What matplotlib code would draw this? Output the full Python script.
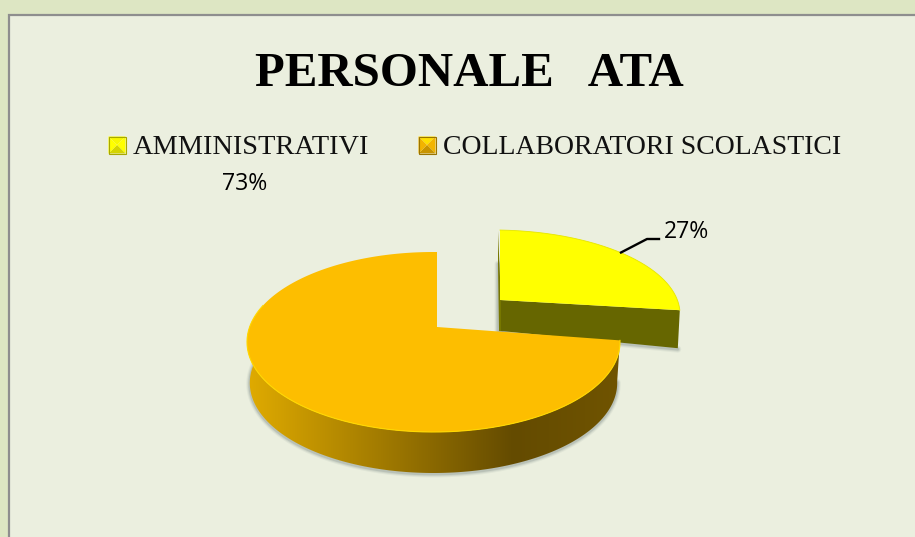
import numpy as np
import matplotlib
matplotlib.use("Agg")
import matplotlib.pyplot as plt
from matplotlib.patches import Polygon, Rectangle

# Chart data
title = "PERSONALE   ATA"
categories = ["AMMINISTRATIVI", "COLLABORATORI SCOLASTICI"]
percent = [27, 73]

# Work in image pixels, y pointing down
fig = plt.figure(figsize=(9.15, 5.37), dpi=100, facecolor="#dde6c3")
ax = fig.add_axes([0, 0, 1, 1])
ax.set_xlim(0, 915)
ax.set_ylim(537, 0)
ax.axis("off")

# Panel
ax.add_patch(Rectangle((9, 15), 920, 540, fc="#ebefdf", ec="#8e8e8e", lw=1.6, zorder=1))


def rim(center, radii, apex, start, end, tilt=1.0, n=200):
    # cast rays from the apex to the ellipse, angles clockwise from the top
    # the apex is not the ellipse centre because of the perspective
    theta = np.radians(np.linspace(start, end, n))
    dx = np.sin(theta) * radii[0]
    dy = -np.cos(theta) * radii[1] * tilt
    ox = (apex[0] - center[0]) / radii[0]
    oy = (apex[1] - center[1]) / radii[1]
    ux = dx / radii[0]
    uy = dy / radii[1]
    a = ux**2 + uy**2
    b = 2 * (ox * ux + oy * uy)
    c = ox**2 + oy**2 - 1
    t = (-b + np.sqrt(b**2 - 4 * a * c)) / (2 * a)
    return np.column_stack((apex[0] + t * dx, apex[1] + t * dy))


def shadow(points, z):
    # soft grey edge under a wall
    for w, al in [(5, 0.08), (3.5, 0.12), (2, 0.2)]:
        ax.plot(points[:, 0], points[:, 1], color="#607070", lw=w, alpha=al,
                solid_capstyle="round", zorder=z)


angle_yellow = 360 * percent[0] / sum(percent)

# Yellow slice, pulled out of the pie
y_center, y_radii, y_apex = (493, 314), (187, 84), (500, 300)
y_arc = rim(y_center, y_radii, y_apex, 0, angle_yellow)
y_corner = y_arc[-1]
y_wall = np.array([y_apex, y_corner, y_corner + (-2, 38), (y_apex[0] + 1, y_apex[1] + 31)])
shadow(np.array([(498, 264), (498, 331), (y_apex[0] + 2, 332)]), 2)
shadow(np.array([y_wall[3], y_wall[2]]) + (0, 1), 2)
ax.add_patch(Polygon(y_wall, fc="#666600", ec="none", zorder=3))
ax.add_patch(Polygon(np.vstack((y_apex, y_arc)), fc="#ffff00", ec="none", zorder=4))
# thin dark sliver on the cut side
ax.add_patch(Polygon([(498, 231), (501, 300), (501, 331), (499, 331), (498, 264)],
                     fc="#777700", ec="none", zorder=3.5))
ax.plot(y_arc[:, 0], y_arc[:, 1], color="#e6e600", lw=0.6, zorder=4.5)

# Orange slice
o_center, o_radii, o_apex = (433.5, 342), (186.5, 90), (437, 327)
o_arc = rim(o_center, o_radii, o_apex, angle_yellow, 360, tilt=1.2)
front = rim(o_center, o_radii, o_apex, angle_yellow, 282, tilt=1.2)
wall_bottom = np.column_stack((o_center[0] + (front[:, 0] - o_center[0]) * 0.985, front[:, 1] + 41))
shadow(wall_bottom + (0, 1), 4.6)
wall = Polygon(np.vstack((front, wall_bottom[::-1])), fc="none", ec="none", zorder=5)
ax.add_patch(wall)
grad_x = np.arange(240, 630)
grad = np.column_stack([
    np.interp(grad_x, [247, 513, 620], [0xe0, 0x64, 0x70]),
    np.interp(grad_x, [247, 513, 620], [0xab, 0x4b, 0x54]),
    np.interp(grad_x, [247, 513, 620], [0x00, 0x00, 0x00]),
]) / 255
im = ax.imshow(grad[np.newaxis, :, :], extent=(240, 630, 490, 320), aspect="auto", zorder=5)
im.set_clip_path(wall)
ax.set_xlim(0, 915)
ax.set_ylim(537, 0)
ax.add_patch(Polygon(np.vstack((o_apex, o_arc)), fc="#fdbe00", ec="none", zorder=6))
ax.plot(front[:, 0], front[:, 1], color="#ffd800", lw=0.8, zorder=6.5)

# Leader line and labels
ax.plot([621, 647, 659], [252.5, 239, 239], color="black", lw=1.7, zorder=7)
ax.text(664, 232, f"{percent[0]}%", fontsize=16.6, family="Open Sans", color="black",
        ha="left", va="center", zorder=8)
ax.text(222, 184, f"{percent[1]}%", fontsize=16.6, family="Open Sans", color="black",
        ha="left", va="center", zorder=8)

# Title
ax.text(469, 86, title, fontsize=35.2, family="Liberation Serif", fontweight="bold",
        color="black", ha="center", va="baseline", zorder=8)


def swatch(x, y, s, top, mid, bottom, edge):
    # small bevelled legend key
    c = (x + s / 2, y + s / 2)
    tl, tr, br, bl = (x, y), (x + s, y), (x + s, y + s), (x, y + s)
    ax.add_patch(Polygon([tl, tr, c], fc=top, ec="none", zorder=8))
    ax.add_patch(Polygon([tr, br, c], fc=mid, ec="none", zorder=8))
    ax.add_patch(Polygon([br, bl, c], fc=bottom, ec="none", zorder=8))
    ax.add_patch(Polygon([bl, tl, c], fc=mid, ec="none", zorder=8))
    ax.add_patch(Rectangle((x, y), s, s, fc="none", ec=edge, lw=0.8, zorder=8))


swatch(108.5, 136.5, 17, "#f8f800", "#ffff00", "#d4d400", "#a8a800")
swatch(418.5, 136.5, 17, "#ffe000", "#f2b400", "#c89400", "#9a7400")
ax.text(133, 153.5, categories[0], fontsize=20.4, family="Liberation Serif", color="#111111",
        ha="left", va="baseline", zorder=8)
ax.text(443, 153.5, categories[1], fontsize=20, family="Liberation Serif", color="#111111",
        ha="left", va="baseline", zorder=8)

fig.savefig("out.png", dpi=100, facecolor=fig.get_facecolor())
